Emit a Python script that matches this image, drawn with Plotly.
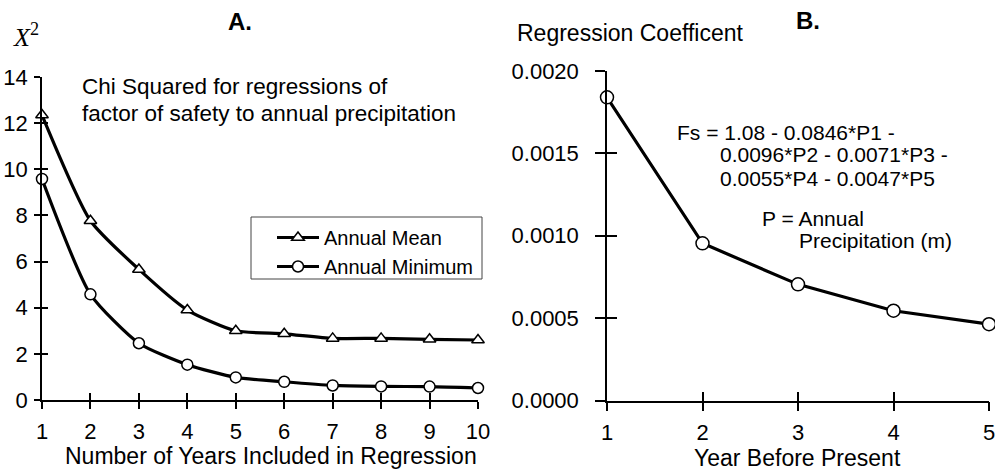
import plotly.graph_objects as go

# Panel A data
years_included = [1, 2, 3, 4, 5, 6, 7, 8, 9, 10]
chi2_annual_mean = [12.35, 7.77, 5.66, 3.90, 3.00, 2.87, 2.67, 2.67, 2.63, 2.60]
chi2_annual_min = [9.58, 4.58, 2.46, 1.53, 0.98, 0.79, 0.63, 0.59, 0.58, 0.52]

# Panel B data
year_before_present = [1, 2, 3, 4, 5]
regression_coef = [0.00184, 0.000954, 0.000705, 0.000545, 0.000463]

a_xticks = [1, 2, 3, 4, 5, 6, 7, 8, 9, 10]
a_yticks = [0, 2, 4, 6, 8, 10, 12, 14]
b_xticks = [1, 2, 3, 4, 5]
b_yticks = [0.0, 0.0005, 0.0010, 0.0015, 0.0020]

FONT = "Liberation Sans, Arial, sans-serif"
TICKF = dict(family=FONT, size=22, color="black")
W, H = 995, 473

fig = go.Figure()

marker_open = dict(color="white", size=11, line=dict(color="black", width=1.5))

fig.add_trace(go.Scatter(
    x=years_included, y=chi2_annual_mean, mode="lines+markers", name="Annual Mean",
    line=dict(color="black", width=3.2, shape="spline", smoothing=0.6),
    marker=dict(symbol="triangle-up", **marker_open), cliponaxis=False,
    xaxis="x", yaxis="y"))
fig.add_trace(go.Scatter(
    x=years_included, y=chi2_annual_min, mode="lines+markers", name="Annual Minimum",
    line=dict(color="black", width=3.2, shape="spline", smoothing=0.6),
    marker=dict(symbol="circle", **marker_open), cliponaxis=False,
    xaxis="x", yaxis="y"))
fig.add_trace(go.Scatter(
    x=year_before_present, y=regression_coef, mode="lines+markers", showlegend=False,
    line=dict(color="black", width=3.2),
    marker=dict(symbol="circle", color="white", size=13, line=dict(color="black", width=1.5)),
    cliponaxis=False, xaxis="x2", yaxis="y2"))

# invisible traces to anchor the inner-tick overlay axes
fig.add_trace(go.Scatter(x=years_included, y=chi2_annual_min, mode="markers",
                         marker=dict(opacity=0), showlegend=False, hoverinfo="skip",
                         xaxis="x3", yaxis="y3"))
fig.add_trace(go.Scatter(x=year_before_present, y=regression_coef, mode="markers",
                         marker=dict(opacity=0), showlegend=False, hoverinfo="skip",
                         xaxis="x4", yaxis="y4"))

A_X = [42 / W, 478 / W]
A_Y = [1 - 400 / H, 1 - 77 / H]
B_X = [607 / W, 989 / W]
B_Y = [1 - 400.5 / H, 1 - 71 / H]

axis_common = dict(showgrid=False, zeroline=False, showline=True, linecolor="black",
                   linewidth=1.5, ticks="outside", tickcolor="black", tickwidth=1.5,
                   tickfont=TICKF, automargin=False, ticklabeloverflow="allow")
inner_common = dict(showgrid=False, zeroline=False, showline=False, ticks="inside",
                    tickcolor="black", tickwidth=1.5, showticklabels=False,
                    automargin=False)

fig.update_layout(
    width=W, height=H, margin=dict(l=0, r=0, t=0, b=0),
    paper_bgcolor="white", plot_bgcolor="white",
    xaxis=dict(domain=A_X, range=[1, 10], tickvals=a_xticks, ticklen=7, anchor="y",
               ticklabelstandoff=4, **axis_common),
    yaxis=dict(domain=A_Y, range=[0, 14], tickvals=a_yticks, ticklen=6, anchor="x",
               ticklabelstandoff=2, **axis_common),
    xaxis3=dict(domain=A_X, range=[1, 10], tickvals=a_xticks, ticklen=7, anchor="y3",
                overlaying="x", **inner_common),
    yaxis3=dict(domain=A_Y, range=[0, 14], tickvals=a_yticks, ticklen=6, anchor="x3",
                overlaying="y", **inner_common),
    xaxis2=dict(domain=B_X, range=[1, 5], tickvals=b_xticks, ticklen=9, anchor="y2",
                ticklabelstandoff=2, **axis_common),
    yaxis2=dict(domain=B_Y, range=[0, 0.002], tickvals=b_yticks, tickformat=".4f",
                ticklen=10, anchor="x2", ticklabelstandoff=12, **axis_common),
    xaxis4=dict(domain=B_X, range=[1, 5], tickvals=b_xticks, ticklen=9, anchor="y4",
                overlaying="x2", **inner_common),
    yaxis4=dict(domain=B_Y, range=[0, 0.002], tickvals=b_yticks, ticklen=10, anchor="x4",
                overlaying="y2", **inner_common),
    legend=dict(x=272 / W, y=1 - 218 / H, xanchor="left", yanchor="top",
                bgcolor="rgba(0,0,0,0)", borderwidth=0, itemwidth=42,
                font=dict(family=FONT, size=20, color="black")),
    showlegend=True,
    shapes=[dict(type="rect", xref="paper", yref="paper",
                 x0=251 / W, x1=482 / W, y0=1 - 279 / H, y1=1 - 217 / H,
                 line=dict(color="#444444", width=1), fillcolor="white", layer="below")],
)


def add_text(text, x, y, size, xanchor="center", family=FONT):
    fig.add_annotation(text=text, x=x / W, y=1 - y / H, xref="paper", yref="paper",
                       showarrow=False, xanchor=xanchor, yanchor="middle", align="left",
                       font=dict(family=family, size=size, color="black"))


add_text("<b>A.</b>", 240, 22, 24)
add_text("<b>B.</b>", 808, 20, 24)
add_text("Regression Coefficent", 630, 33, 23)
add_text("<i>X</i><sup>2</sup>", 11, 36, 26, xanchor="left",
         family="Liberation Serif, Times New Roman, serif")
add_text("Number of Years Included in Regression", 271, 456, 23)
add_text("Year Before Present", 797, 458, 23)

add_text("Chi Squared for regressions of", 80, 87, 22.5, xanchor="left")
add_text("factor of safety to annual precipitation", 80, 113, 22.5, xanchor="left")

add_text("Fs = 1.08 - 0.0846*P1 -", 675, 132, 21, xanchor="left")
add_text("0.0096*P2 - 0.0071*P3 -", 718, 155, 21, xanchor="left")
add_text("0.0055*P4 - 0.0047*P5", 718, 178, 21, xanchor="left")
add_text("P = Annual", 760, 218, 21, xanchor="left")
add_text("Precipitation (m)", 797, 240, 21, xanchor="left")

fig.write_html("out.html", config={"displayModeBar": False},
               post_script="document.body.style.margin='0px';")
